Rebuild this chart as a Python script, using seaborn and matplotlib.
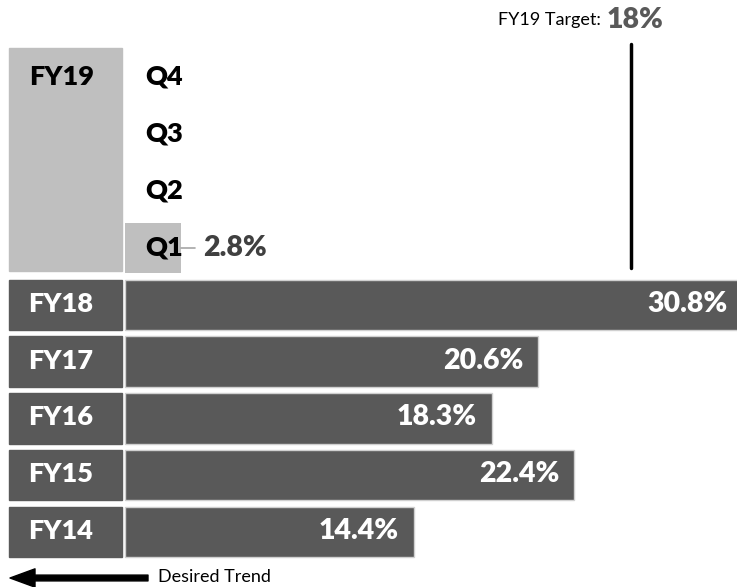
import pandas as pd
import matplotlib.pyplot as plt
import seaborn as sns
from matplotlib.patches import Rectangle

# Data
rows = ['Q4', 'Q3', 'Q2', 'Q1', 'FY18', 'FY17', 'FY16', 'FY15', 'FY14']
bar_labels = ['Q1', 'FY18', 'FY17', 'FY16', 'FY15', 'FY14']
bar_values = [2.8, 30.8, 20.6, 18.3, 22.4, 14.4]
quarters = ['Q4', 'Q3', 'Q2', 'Q1']
target_pct = 18
target_line_at = 25.2  # where the source chart draws the target marker

dark = '#595959'
light = '#bfbfbf'
heavy = 'heavy'

df = pd.DataFrame({'row': bar_labels, 'value': bar_values})
palette = {r: (light if r.startswith('Q') else dark) for r in bar_labels}

sns.set_style('white')
plt.rcParams['font.family'] = ['Lato', 'DejaVu Sans']

fig = plt.figure(figsize=(7.37, 5.87), dpi=100)
ax = fig.add_axes([0, 0, 1, 1])

sns.barplot(data=df, x='value', y='row', hue='row', order=rows, palette=palette,
            legend=False, width=0.88, orient='h', saturation=1, ax=ax)

# thin light outline on the dark bars only
for p in ax.patches:
    if p.get_facecolor()[0] < 0.5:
        p.set_edgecolor('#d0d0d0')
        p.set_linewidth(1.0)
    else:
        p.set_edgecolor('none')

ax.set_xlim(-6.2, 30.5)
ax.set_ylim(8.96, -1.35)
ax.axis('off')

# left label boxes for the fiscal years
for lab in bar_labels[1:]:
    i = rows.index(lab)
    ax.add_patch(Rectangle((-5.75, i - 0.44), 5.62, 0.88, color=dark, zorder=1))
    ax.annotate(lab, (-5.75, i), xytext=(19, 1), textcoords='offset pixels',
                ha='left', va='center', color='white', fontsize=19.5, fontweight=heavy)

# FY19 box spanning the quarter rows
ax.add_patch(Rectangle((-5.75, -0.51), 5.62, 3.92, color=light, zorder=0))
ax.annotate('FY19', (-5.75, 0), xytext=(20, 0), textcoords='offset pixels',
            ha='left', va='center', color='black', fontsize=19.5, fontweight=heavy)

for q in quarters:
    ax.annotate(q, (0, rows.index(q)), xytext=(21, 0), textcoords='offset pixels',
                ha='left', va='center', color='black', fontsize=19.5, fontweight=heavy, zorder=5)

# value labels
for lab, val in zip(bar_labels, bar_values):
    i = rows.index(lab)
    if lab.startswith('Q'):
        ax.plot([val, val + 0.7], [i, i], color='#a6a6a6', lw=1.2)
        ax.annotate(f'{val}%', (val, i), xytext=(22, 0), textcoords='offset pixels',
                    ha='left', va='center', color='#404040', fontsize=20.5, fontweight=heavy)
    else:
        ax.annotate(f'{val}%', (val, i), xytext=(-15, 1), textcoords='offset pixels',
                    ha='right', va='center', color='white', fontsize=20.5, fontweight=heavy,
                    annotation_clip=False)

# target marker
ax.plot([target_line_at, target_line_at], [-0.58, 3.36], color='black', lw=2.5,
        solid_capstyle='round')
ax.text(target_line_at - 1.5, -1.0, 'FY19 Target:', ha='right', va='center',
        fontsize=13, color='black')
ax.text(target_line_at - 1.2, -1.0, f'{target_pct}%', ha='left', va='center',
        fontsize=20.5, fontweight=heavy, color=dark)

# desired trend arrow
ax.annotate('', xy=(10 / 737, 1 - 578 / 587), xytext=(148 / 737, 1 - 578 / 587),
            xycoords='axes fraction', textcoords='axes fraction',
            arrowprops=dict(arrowstyle='simple,head_length=1.5,head_width=1.1,tail_width=0.35',
                            color='black', mutation_scale=12, shrinkA=0, shrinkB=0))
ax.text(158 / 737, 1 - 577 / 587, 'Desired Trend', transform=ax.transAxes,
        ha='left', va='center', fontsize=13, color='black')

fig.savefig('out.png', dpi=100)
